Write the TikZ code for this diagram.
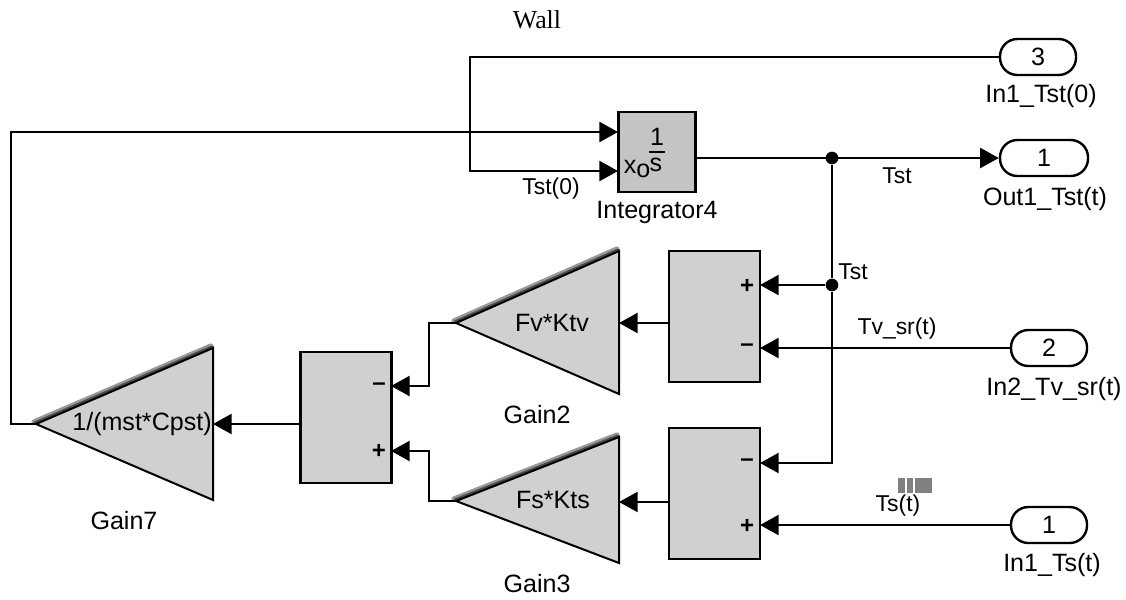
\documentclass[tikz,border=0pt]{standalone}
\usepackage{fontspec}
\setmainfont{Liberation Sans}
\newfontfamily\wallfont{Liberation Serif}
\usetikzlibrary{arrows.meta}
\definecolor{blockgray}{RGB}{208,208,208}
\definecolor{intgray}{RGB}{196,196,196}
\tikzset{
	signal/.style={line width=1.8pt,-{Triangle[length=14pt,width=15pt]}},
	wire/.style={line width=1.8pt},
	sumblock/.style={draw,line width=1.8pt,fill=blockgray,minimum width=68pt,minimum height=98pt,inner sep=0pt},
	gainblock/.style={draw,line width=1.5pt,fill=blockgray,line join=miter},
	gainedge/.style={line width=4pt,color=black!40,line cap=round},
	gaincore/.style={line width=2.4pt,color=black!70,line cap=round},
	portblock/.style={draw,line width=1.8pt,fill=white,rounded corners=13pt,minimum height=27pt,inner sep=0pt,font=\fontsize{18.8}{20}\selectfont},
	junction/.style={circle,fill=black,minimum size=9.5pt,inner sep=0pt},
	blocklabel/.style={inner sep=0pt,font=\fontsize{18.8}{20}\selectfont},
	wirelabel/.style={inner sep=0pt,font=\fontsize{17.2}{18}\selectfont},
	signmark/.style={inner sep=0pt,font=\fontsize{18}{18}\bfseries\selectfont}
}
\begin{document}
\begin{tikzpicture}[x=0.75pt,y=0.75pt,yscale=-1]
	\useasboundingbox (0,0) rectangle (1126,599);
	
	\node[inner sep=0pt,font=\wallfont\fontsize{19.4}{20}\selectfont] (walltitle) at (537,20) {Wall};
	
	%ports
	\node[portblock,minimum width=57pt] (inthree) at (1038,57) {3};
	\node[portblock,minimum width=66pt] (outone) at (1044,158) {1};
	\node[portblock,minimum width=57pt] (intwo) at (1049,348) {2};
	\node[portblock,minimum width=57pt] (inone) at (1049,525) {1};
	\node[blocklabel] (inthreelabel) at (1041,96) {In1\_Tst(0)};
	\node[blocklabel] (outonelabel) at (1045,199) {Out1\_Tst(t)};
	\node[blocklabel] (intwolabel) at (1054,389) {In2\_Tv\_sr(t)};
	\node[blocklabel] (inonelabel) at (1052,565) {In1\_Ts(t)};
	
	%integrator
	\node[draw,line width=1.8pt,fill=intgray,minimum width=58pt,minimum height=60pt,inner sep=0pt] (integ) at (657,152) {};
	\coordinate (integup) at (618,132);
	\coordinate (integlow) at (618,171);
	\node[blocklabel] (integone) at (657,137) {1};
	\node[blocklabel] (integs) at (656,165) {s};
	\draw[wire] (649,152) -- (665,152);
	\node[blocklabel] (integx) at (637,169) {x\raisebox{-3pt}{o}};
	\node[blocklabel] (integlabel) at (657,212) {Integrator4};
	
	%sum blocks
	\node[sumblock] (sumv) at (714.5,316.5) {};
	\node[sumblock] (sums) at (714.5,493.5) {};
	\node[sumblock] (sumw) at (346,417.5) {};
	\coordinate (sumvplus) at (760,285);
	\coordinate (sumvminus) at (760,348);
	\coordinate (sumsminus) at (760,463);
	\coordinate (sumsplus) at (760,525);
	\coordinate (sumwminus) at (391,386);
	\coordinate (sumwplus) at (391,451);
	\node[signmark] (signa) at (747,286) {+};
	\node[signmark] (signb) at (747,348) {–};
	\node[signmark] (signc) at (747,463) {–};
	\node[signmark] (signd) at (747,526) {+};
	\node[signmark] (signe) at (379,387) {–};
	\node[signmark] (signf) at (379,451) {+};
	
	%gains
	\draw[gainedge] (454,321) -- (617,249);
	\draw[gaincore] (455,322) -- (618,250);
	\draw[gainblock] (456,323) -- (619,251) -- (619,394) -- cycle;
	\draw[gainedge] (454,499) -- (617,435);
	\draw[gaincore] (455,500) -- (618,436);
	\draw[gainblock] (456,501) -- (619,437) -- (619,563) -- cycle;
	\draw[gainedge] (34,422) -- (211,346);
	\draw[gaincore] (35,423) -- (212,347);
	\draw[gainblock] (36,424) -- (213,348) -- (213,500) -- cycle;
	\coordinate (gainvin) at (619,323);
	\coordinate (gainvout) at (456,323);
	\coordinate (gainsin) at (619,502);
	\coordinate (gainsout) at (456,501);
	\coordinate (gainwin) at (213,424);
	\coordinate (gainwout) at (36,424);
	\node[blocklabel] (gainvtext) at (552,323) {Fv*Ktv};
	\node[blocklabel] (gainstext) at (553,500) {Fs*Kts};
	\node[blocklabel] (gainwtext) at (142,424) {1/(mst*Cpst)};
	\node[blocklabel] (gainvlabel) at (537,415) {Gain2};
	\node[blocklabel] (gainslabel) at (537,584) {Gain3};
	\node[blocklabel] (gainwlabel) at (124,521) {Gain7};
	
	%wires
	\node[junction] (dotout) at (832,158) {};
	\node[junction] (dotsum) at (832,285) {};
	\draw[signal] (inthree.west) -- (470,57) |- (integlow);
	\draw[signal] (gainwout) -- (11,424) |- (integup);
	\draw[signal] (integ.east |- outone.west) -- (outone.west);
	\draw[wire] (dotout) -- (dotsum);
	\draw[signal] (dotsum) -- (sumvplus);
	\draw[signal] (dotsum) |- (sumsminus);
	\draw[signal] (intwo.west) -- (sumvminus);
	\draw[signal] (inone.west) -- (sumsplus);
	\draw[signal] (sumv.west |- gainvin) -- (gainvin);
	\draw[signal] (sums.west |- gainsin) -- (gainsin);
	\draw[signal] (gainvout) -- (429,323) |- (sumwminus);
	\draw[signal] (gainsout) -- (429,501) |- (sumwplus);
	\draw[signal] (sumw.west |- gainwin) -- (gainwin);
	
	\node[wirelabel] (tstout) at (897,176) {Tst};
	\node[wirelabel] (tstsum) at (853,272) {Tst};
	\node[wirelabel] (tstzero) at (551,189) {Tst(0)};
	\node[wirelabel] (tvsr) at (897,329) {Tv\_sr(t)};
	\node[wirelabel] (tst) at (898,506) {Ts(t)};
	
	%bars over Ts(t)
	\fill[black!50] (898,478) rectangle (905,493);
	\fill[black!50] (907,478) rectangle (913,493);
	\fill[black!50] (915,478) rectangle (932,493);
\end{tikzpicture}
\end{document}
